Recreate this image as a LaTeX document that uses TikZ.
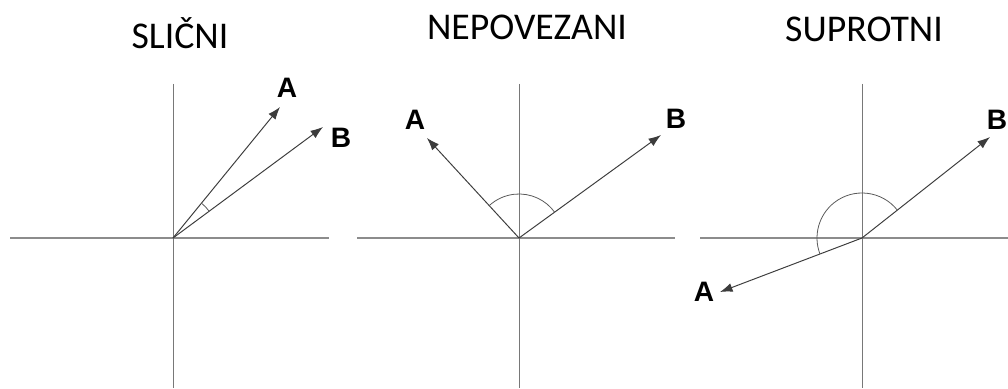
\documentclass[tikz,border=0pt]{standalone}
\usepackage{fontspec}
\setmainfont{Carlito}
\newfontfamily\labelfont{Liberation Sans}
\usetikzlibrary{arrows.meta, positioning}

\definecolor{axisgray}{RGB}{120, 120, 120}
\definecolor{vecgray}{RGB}{60, 60, 60}
\definecolor{arcgray}{RGB}{90, 90, 90}

\tikzset{
    axisline/.style={draw=axisgray, line width=0.5pt},
    haxis/.style={axisline, line width=1.1pt, draw=axisgray!85},
    vecarrow/.style={draw=vecgray, line width=0.55pt, -{Latex[length=2.5mm, width=1.8mm]}},
    anglearc/.style={draw=arcgray, line width=0.45pt},
    titletext/.style={font=\fontsize{21.5}{24}\selectfont, text=black},
    veclabel/.style={font=\labelfont\bfseries\fontsize{16}{18}\selectfont, inner sep=0pt},
}

\begin{document}
\begin{tikzpicture}
    \useasboundingbox[fill=white] (0,0) rectangle (20.16,7.76);

    % titles
    \node[titletext] (tslicni) at (3.60,7.10) {SLIČNI};
    \node[titletext] (tnepov) at (10.54,7.22) {NEPOVEZANI};
    \node[titletext] (tsuprot) at (17.28,7.18) {SUPROTNI};

    % --- slicni
    \coordinate (o1) at (3.46,3.00);
    \draw[haxis] (0.20,3.00) -- (6.58,3.00);
    \draw[axisline] (3.46,6.08) -- (3.46,0);
    \coordinate (a1) at (5.60,5.62);
    \coordinate (b1) at (6.46,5.22);
    \draw[vecarrow] (o1) -- (a1);
    \draw[vecarrow] (o1) -- (b1);
    \draw[anglearc] (o1) ++(36.5:0.9) arc[start angle=36.5, end angle=50.8, radius=0.9];
    \node[veclabel] (la1) at (5.74,6.00) {A};
    \node[veclabel] (lb1) at (6.82,5.00) {B};

    % --- nepovezani
    \coordinate (o2) at (10.38,3.00);
    \draw[haxis] (7.14,3.00) -- (13.50,3.00);
    \draw[axisline] (10.38,6.08) -- (10.38,0);
    \coordinate (a2) at (8.54,5.00);
    \coordinate (b2) at (13.22,5.06);
    \draw[vecarrow] (o2) -- (a2);
    \draw[vecarrow] (o2) -- (b2);
    \draw[anglearc] (o2) ++(35.5:0.88) arc[start angle=35.5, end angle=132.6, radius=0.88];
    \node[veclabel] (la2) at (8.30,5.36) {A};
    \node[veclabel] (lb2) at (13.52,5.38) {B};

    % --- suprotni
    \coordinate (o3) at (17.24,3.00);
    \draw[haxis] (14.00,3.00) -- (20.16,3.00);
    \draw[axisline] (17.24,6.08) -- (17.24,0);
    \coordinate (a3) at (14.40,1.92);
    \coordinate (b3) at (19.80,5.02);
    \draw[vecarrow] (o3) -- (a3);
    \draw[vecarrow] (o3) -- (b3);
    \draw[anglearc] (o3) ++(38.3:0.9) arc[start angle=38.3, end angle=200.8, radius=0.9];
    \node[veclabel] (la3) at (14.08,1.92) {A};
    \node[veclabel] (lb3) at (19.94,5.36) {B};
\end{tikzpicture}
\end{document}
